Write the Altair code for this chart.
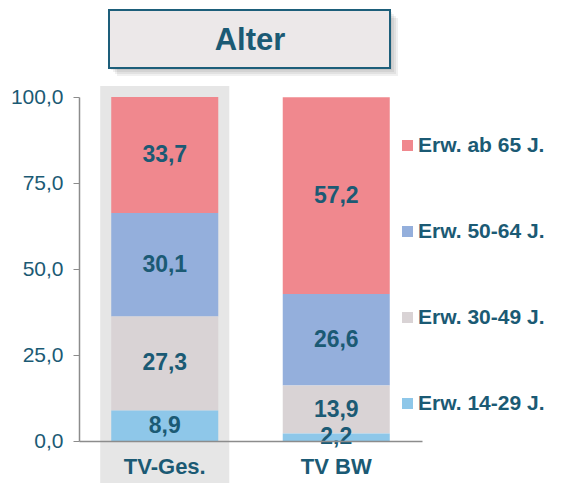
import altair as alt
import pandas as pd

categories = ["TV-Ges.", "TV BW"]
groups = ["Erw. ab 65 J.", "Erw. 50-64 J.", "Erw. 30-49 J.", "Erw. 14-29 J."]
values_ges = [33.7, 30.1, 27.3, 8.9]
values_bw = [57.2, 26.6, 13.9, 2.2]
colors = ["#F0888E", "#94AFDC", "#D9D3D5", "#8EC7E9"]
y_ticks = [0, 25, 50, 75, 100]
title_text = "Alter"

TXT = "#1B5A74"
FONT = "Liberation Sans"

rows = []
for cat, vals in zip(categories, [values_ges, values_bw]):
    for i, (g, v) in enumerate(zip(groups, vals)):
        rows.append({"cat": cat, "grp": g, "val": v, "ord": len(groups) - i})
df = pd.DataFrame(rows)

xenc = alt.X("cat:N", sort=categories,
             scale=alt.Scale(paddingInner=0.376, paddingOuter=0.188),
             axis=alt.Axis(title=None, labelAngle=0, labelFontSize=22, labelFontWeight="bold",
                           labelColor=TXT, labelFont=FONT, ticks=False, labelPadding=15,
                           domainColor="#8c8c8c", domainWidth=1.5, zindex=1))

bg = alt.Chart(pd.DataFrame({"cat": [categories[0]]})).mark_bar(
    color="#E6E6E6", width=alt.RelativeBandSize(1.206)
).encode(x=xenc, y=alt.value(-11), y2=alt.value(400))

bars = alt.Chart(df).mark_bar().encode(
    x=xenc,
    y=alt.Y("val:Q", stack="zero", scale=alt.Scale(domain=[0, 100], nice=False),
            axis=alt.Axis(title=None, values=y_ticks, grid=False, labelFontSize=21,
                          labelColor=TXT, labelFont=FONT, tickSize=6, labelPadding=10,
                          tickColor="#8c8c8c", domainColor="#8c8c8c", domainWidth=1.5, zindex=1,
                          labelExpr="replace(format(datum.value, '.1f'), '.', ',')")),
    color=alt.Color("grp:N", sort=groups,
                    scale=alt.Scale(domain=groups, range=colors),
                    legend=alt.Legend(title=None, orient="none", legendX=318, legendY=38,
                                      symbolType="square", symbolSize=121, symbolStrokeWidth=0,
                                      labelFontSize=21, labelFontWeight="bold", labelColor=TXT,
                                      labelFont=FONT, rowPadding=64, labelOffset=0, padding=0)),
    order=alt.Order("ord:Q", sort="ascending"),
)

labels = alt.Chart(df).transform_stack(
    stack="val", groupby=["cat"], sort=[alt.SortField("ord", order="ascending")], as_=["y0", "y1"]
).transform_calculate(
    mid="(datum.y0 + datum.y1) / 2",
    lab="replace(format(datum.val, '.1f'), '.', ',')"
).mark_text(fontSize=23, fontWeight="bold", color=TXT, font=FONT, baseline="middle").encode(
    x=xenc, y=alt.Y("mid:Q"), text="lab:N"
)

one = alt.Data(values=[{"a": 1}])
shadows = [
    alt.Chart(one).mark_rect(color="#000000", opacity=0.06).encode(
        x=alt.value(30 + d), x2=alt.value(311 + d), y=alt.value(-87 + d), y2=alt.value(-29 + d))
    for d in (2, 4, 6, 8)
]
box = alt.Chart(one).mark_rect(fill="#ECE8E9", stroke="#1D5E7A", strokeWidth=2).encode(
    x=alt.value(30), x2=alt.value(311), y=alt.value(-87), y2=alt.value(-29))
title = alt.Chart(one).mark_text(text=title_text, fontSize=31, fontWeight="bold", color=TXT,
                                 font=FONT, baseline="middle", align="center").encode(
    x=alt.value(171), y=alt.value(-56))

chart = alt.layer(bg, bars, labels, *shadows, box, title).properties(
    width=343, height=344,
    autosize=alt.AutoSizeParams(type="none"),
    padding={"left": 71, "top": 89, "right": 135, "bottom": 42},
).configure_view(stroke=None)

chart.save("out.html", embed_options={"renderer": "svg", "actions": False})
